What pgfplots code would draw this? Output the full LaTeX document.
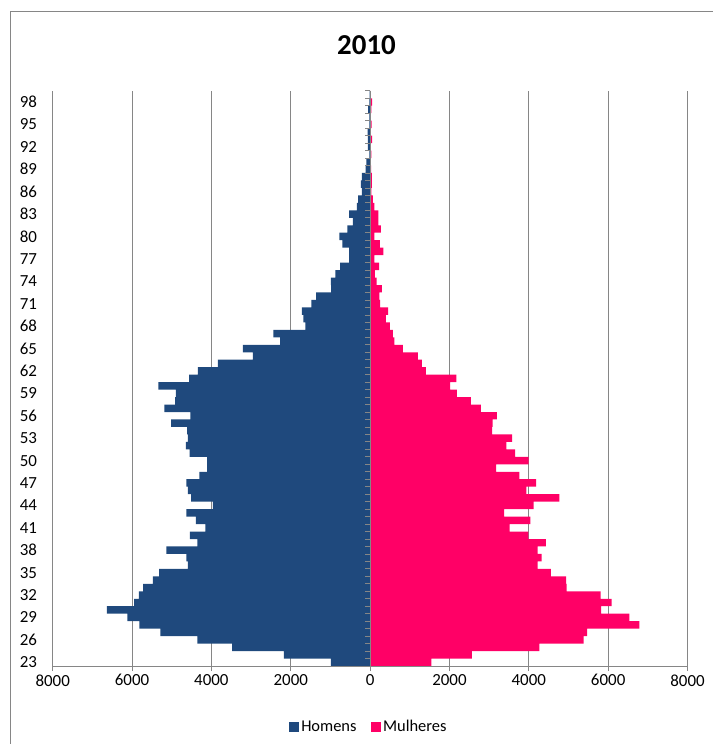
\documentclass[border=0pt]{standalone}
\usepackage{fontspec}
\setmainfont{Carlito}
\usepackage{pgfplots}
\usepackage{pgfplotstable}
\pgfplotsset{compat=1.18}

\definecolor{homens}{RGB}{31,73,125}
\definecolor{mulheres}{RGB}{255,0,102}
\definecolor{linha}{RGB}{134,134,134}

% population by single year of age; men stored as negative numbers
\pgfplotstableread{
idade homens mulheres
23 -990 1545
24 -2175 2562
25 -3478 4267
26 -4352 5384
27 -5284 5468
28 -5813 6787
29 -6115 6535
30 -6636 5821
31 -5947 6090
32 -5830 5813
33 -5720 4956
34 -5477 4939
35 -5317 4553
36 -4595 4225
37 -4628 4326
38 -5132 4225
39 -4352 4427
40 -4544 3990
41 -4150 3519
42 -4393 4040
43 -4628 3377
44 -3960 4124
45 -4511 4771
46 -4595 3940
47 -4628 4183
48 -4305 3763
49 -4108 3175
50 -4108 3998
51 -4550 3654
52 -4645 3436
53 -4595 3578
54 -4615 3074
55 -5015 3091
56 -4528 3192
57 -5183 2789
58 -4914 2537
59 -4897 2184
60 -5334 2016
61 -4561 2176
62 -4343 1403
63 -3839 1302
64 -2957 1201
65 -3209 823
66 -2268 614
67 -2436 571
68 -1630 496
69 -1680 395
70 -1722 454
71 -1478 252
72 -1361 235
73 -985 294
74 -991 164
75 -874 122
76 -756 227
77 -529 109
78 -529 332
79 -700 244
80 -777 109
81 -575 273
82 -432 210
83 -529 210
84 -336 109
85 -302 67
86 -210 34
87 -230 42
88 -210 42
89 -112 25
90 -92 17
91 -17 34
92 -59 17
93 -59 50
94 -63 17
95 -17 38
96 -17 8
97 -50 34
98 -17 50
99 -10 8
}\pyramide

\begin{document}
\begin{tikzpicture}[x=1bp,y=1bp]
\path[use as bounding box] (0,0) rectangle (713,744);
% chart area frame (left and top edges)
\draw[linha, line width=0.8bp] (10,-2) -- (10,732.3) -- (716,732.3);
\node[font=\fontsize{29}{34}\selectfont\bfseries] at (366.5,699) {2010};
\begin{axis}[
  at={(52.7bp,78bp)}, anchor=south west,
  width=634.8bp, height=575.2bp, scale only axis,
  xmin=-8000, xmax=8000, ymin=22.5, ymax=99.5,
  axis x line*=bottom, axis y line*=left,
  axis line style={linha, line width=0.8bp},
  xtick={-8000,-6000,...,8000},
  xticklabels={8000,6000,4000,2000,0,2000,4000,6000,8000},
  ytick={23,26,...,98},
  yticklabels={23,26,29,32,35,38,41,44,47,50,53,56,59,62,65,68,71,74,77,80,83,86,89,92,95,98},
  xmajorgrids,
  major grid style={linha, line width=0.8bp},
  tick align=outside, major tick length=5bp,
  xtick style={linha, line width=0.8bp},
  ytick style={draw=none},
  xticklabel style={font=\fontsize{17}{20}\selectfont, text=black},
  yticklabel style={font=\fontsize{17}{20}\selectfont, text=black, anchor=east, inner sep=0pt, xshift=-10.5bp},
  legend style={at={(0.4976,-0.106)}, anchor=center, draw=none, fill=none,
    font=\fontsize{16.5}{19}\selectfont, legend columns=2,
    /tikz/every even column/.append style={column sep=12bp}},
  legend image code/.code={\fill[#1] (0bp,-5.3bp) rectangle (10.6bp,5.3bp);},
]
\addplot[xbar, bar width=1, bar shift=0pt, fill=homens, draw=none]
  table[x=homens, y=idade] {\pyramide};
\addlegendentry{Homens}
\addplot[xbar, bar width=1, bar shift=0pt, fill=mulheres, draw=none]
  table[x=mulheres, y=idade] {\pyramide};
\addlegendentry{Mulheres}
% vertical axis at zero with a tick between age groups
\draw[linha, line width=0.8bp] (axis cs:0,22.5) -- (axis cs:0,99.5);
\pgfplotsinvokeforeach{22.5,23.5,...,99.5}{
  \draw[linha, line width=0.8bp] (axis cs:0,#1) -- (axis cs:-126,#1);
}
\end{axis}
\end{tikzpicture}
\end{document}
